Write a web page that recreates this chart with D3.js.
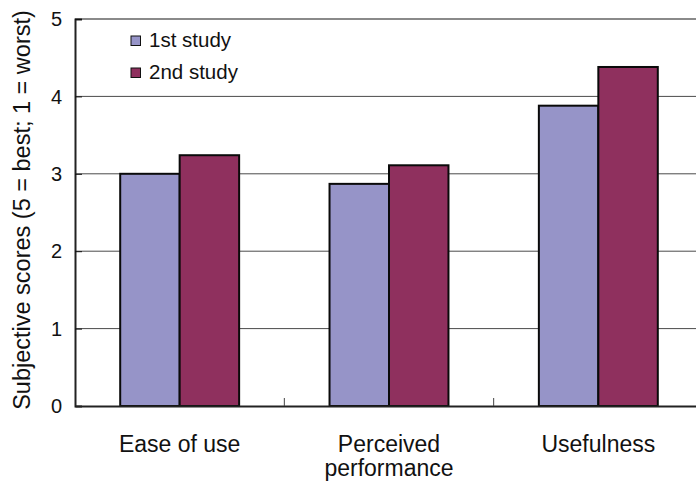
<!DOCTYPE html>
<html>
<head>
<meta charset="utf-8">
<script src="https://cdn.jsdelivr.net/npm/d3@7"></script>
<style>
  html, body { margin: 0; padding: 0; background: #fff; }
  svg { display: block; font-family: "Liberation Sans", Arial, sans-serif; }
</style>
</head>
<body>
<svg id="chart" width="696" height="483"></svg>
<script>
// Subjective scores per aspect, two studies
const categories = ["Ease of use", "Perceived performance", "Usefulness"];
const categoryLines = [["Ease of use"], ["Perceived", "performance"], ["Usefulness"]];
const seriesNames = ["1st study", "2nd study"];
const study1 = [3.0, 2.87, 3.88];
const study2 = [3.24, 3.11, 4.38];
const yTicks = [0, 1, 2, 3, 4, 5];
const colors = ["#9694C8", "#8F305E"];

const svg = d3.select("#chart");
const plotLeft = 75, plotRight = 703, plotTop = 19, plotBottom = 406;

const x0 = d3.scaleBand().domain(categories).range([plotLeft, plotRight]).padding(0);
const x1 = d3.scaleBand().domain(seriesNames).range([0, x0.bandwidth()])
  .paddingInner(0).paddingOuter(0.76);
const y = d3.scaleLinear().domain([0, 5]).range([plotBottom, plotTop]);

// horizontal gridlines
svg.append("g")
  .selectAll("line")
  .data(yTicks.filter(t => t > 0 && t < 5))
  .join("line")
  .attr("x1", plotLeft).attr("x2", plotRight)
  .attr("y1", d => y(d)).attr("y2", d => y(d))
  .attr("stroke", "#4a4a4a").attr("stroke-width", 1);

// top frame line
svg.append("line")
  .attr("x1", plotLeft).attr("x2", plotRight)
  .attr("y1", y(5)).attr("y2", y(5))
  .attr("stroke", "#8a8a8a").attr("stroke-width", 2);

// bars
const series = [study1, study2];
const groups = svg.append("g").selectAll("g")
  .data(categories)
  .join("g")
  .attr("transform", d => `translate(${x0(d)},0)`);

groups.selectAll("rect")
  .data((c, i) => seriesNames.map((s, j) => ({ s, v: series[j][i], j })))
  .join("rect")
  .attr("x", d => x1(d.s))
  .attr("width", x1.bandwidth())
  .attr("y", d => y(d.v))
  .attr("height", d => y(0) - y(d.v))
  .attr("fill", d => colors[d.j])
  .attr("stroke", "#0a0a0a")
  .attr("stroke-width", 2);

// y axis (ticks pointing inward)
const yAxis = svg.append("g")
  .attr("transform", `translate(${plotLeft},0)`)
  .call(d3.axisRight(y).tickValues(yTicks).tickSize(7).tickFormat(""));
yAxis.select(".domain").attr("stroke", "#222").attr("stroke-width", 2);
yAxis.selectAll(".tick line").attr("stroke", "#111");

svg.append("g").selectAll("text")
  .data(yTicks)
  .join("text")
  .attr("x", 62)
  .attr("y", d => y(d))
  .attr("dy", "0.36em")
  .attr("text-anchor", "end")
  .attr("font-size", 20)
  .attr("fill", "#111")
  .text(d => d);

// x baseline with category separators pointing up
const xAxis = svg.append("g")
  .attr("transform", `translate(0,${plotBottom})`)
  .call(d3.axisTop(x0).tickSize(0).tickFormat(""));
xAxis.select(".domain").attr("stroke", "#222").attr("stroke-width", 2);

svg.append("g").selectAll("line")
  .data(categories.slice(1))
  .join("line")
  .attr("x1", d => x0(d)).attr("x2", d => x0(d))
  .attr("y1", plotBottom).attr("y2", plotBottom - 8)
  .attr("stroke", "#444").attr("stroke-width", 1);

// category labels
svg.append("g").selectAll("text")
  .data(categories)
  .join("text")
  .attr("x", d => x0(d) + x0.bandwidth() / 2)
  .attr("y", 452)
  .attr("text-anchor", "middle")
  .attr("font-size", 23)
  .attr("fill", "#111")
  .each(function (d, i) {
    d3.select(this).selectAll("tspan")
      .data(categoryLines[i])
      .join("tspan")
      .attr("x", x0(d) + x0.bandwidth() / 2)
      .attr("dy", (t, k) => k === 0 ? 0 : 24)
      .text(t => t);
  });

// y axis title
svg.append("text")
  .attr("transform", "translate(30,210) rotate(-90)")
  .attr("text-anchor", "middle")
  .attr("font-size", 23.5)
  .attr("fill", "#111")
  .text("Subjective scores (5 = best; 1 = worst)");

// legend
const legend = svg.append("g").selectAll("g")
  .data(seriesNames)
  .join("g")
  .attr("transform", (d, i) => `translate(131,${36 + i * 32})`);
legend.append("rect")
  .attr("width", 9.5).attr("height", 9.5)
  .attr("fill", (d, i) => colors[i])
  .attr("stroke", "#111").attr("stroke-width", 1);
legend.append("text")
  .attr("x", 18).attr("y", 10.5)
  .attr("font-size", 20.5)
  .attr("fill", "#111")
  .text(d => d);
</script>
</body>
</html>
